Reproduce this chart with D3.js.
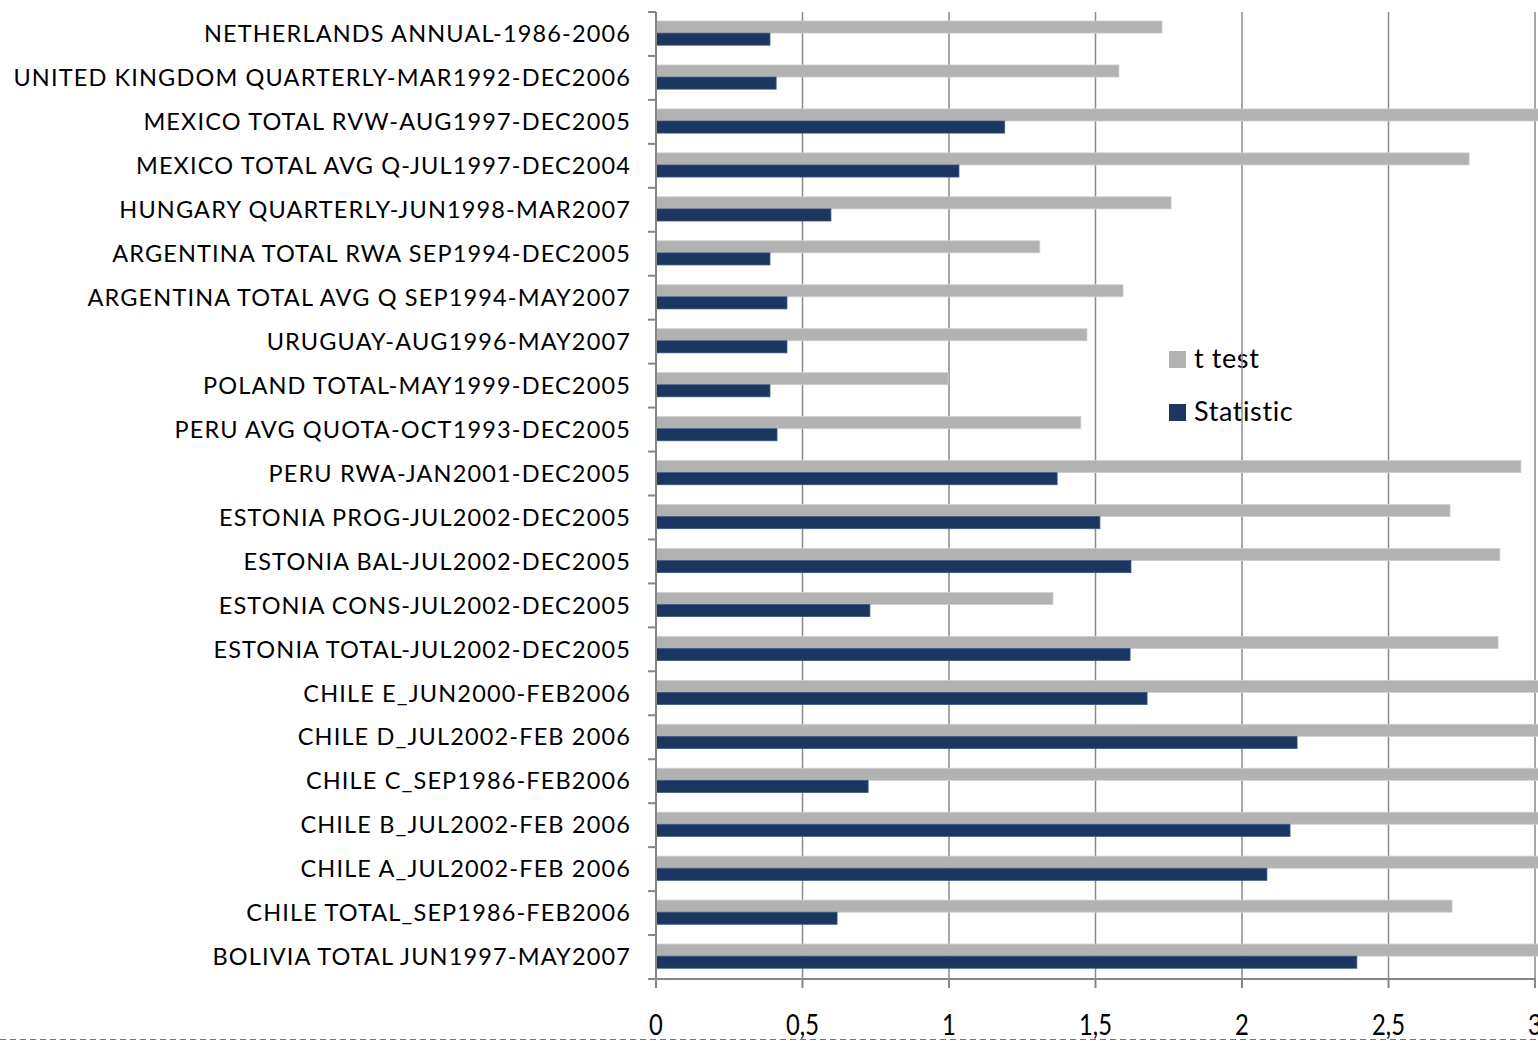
<!DOCTYPE html>
<html><head><meta charset="utf-8">
<script src="https://cdn.jsdelivr.net/npm/d3@7"></script>
<style>html,body{margin:0;padding:0;background:#fff;overflow:hidden}</style>
</head><body>
<svg id="chart" width="1538" height="1041"></svg>
<script>
const categories = [
  "NETHERLANDS ANNUAL-1986-2006",
  "UNITED KINGDOM QUARTERLY-MAR1992-DEC2006",
  "MEXICO TOTAL RVW-AUG1997-DEC2005",
  "MEXICO TOTAL AVG Q-JUL1997-DEC2004",
  "HUNGARY QUARTERLY-JUN1998-MAR2007",
  "ARGENTINA TOTAL RWA SEP1994-DEC2005",
  "ARGENTINA TOTAL AVG Q SEP1994-MAY2007",
  "URUGUAY-AUG1996-MAY2007",
  "POLAND TOTAL-MAY1999-DEC2005",
  "PERU AVG QUOTA-OCT1993-DEC2005",
  "PERU RWA-JAN2001-DEC2005",
  "ESTONIA PROG-JUL2002-DEC2005",
  "ESTONIA BAL-JUL2002-DEC2005",
  "ESTONIA CONS-JUL2002-DEC2005",
  "ESTONIA TOTAL-JUL2002-DEC2005",
  "CHILE E_JUN2000-FEB2006",
  "CHILE D_JUL2002-FEB 2006",
  "CHILE C_SEP1986-FEB2006",
  "CHILE B_JUL2002-FEB 2006",
  "CHILE A_JUL2002-FEB 2006",
  "CHILE TOTAL_SEP1986-FEB2006",
  "BOLIVIA TOTAL JUN1997-MAY2007"
];
const tTest = [1.727, 1.58, 3.2, 2.775, 1.758, 1.31, 1.594, 1.471, 0.997, 1.45, 2.952, 2.71, 2.88, 1.355, 2.874, 3.3, 3.8, 3.1, 3.7, 3.5, 2.717, 4.0];
const statistic = [0.389, 0.41, 1.19, 1.034, 0.597, 0.389, 0.447, 0.447, 0.389, 0.413, 1.369, 1.515, 1.621, 0.73, 1.618, 1.676, 2.188, 0.724, 2.164, 2.085, 0.618, 2.392];
const seriesNames = ["t test", "Statistic"];
const xTicks = [0, 0.5, 1, 1.5, 2, 2.5, 3];
const xTickLabels = ["0", "0,5", "1", "1,5", "2", "2,5", "3"];

const colors = {"t test": "#b2b2b2", "Statistic": "#1b3760"};
const strokes = {"t test": "#cfcfcf", "Statistic": "#3a5680"};
const FONT = "Lato, 'Open Sans', sans-serif";

const svg = d3.select("#chart");
const L = 656, R = 1535, T = 12, B = 979;

const x = d3.scaleLinear().domain([0, 3]).range([L, R]);
const y = d3.scaleBand().domain(categories).range([T, B]).padding(0);
const bw = y.bandwidth();
const ys = d3.scaleBand().domain(seriesNames).range([bw * 0.205, bw * 0.755]).padding(0);

const rows = categories.map((c, i) => ({cat: c, "t test": tTest[i], "Statistic": statistic[i]}));

// red dashed page border
svg.append("line").attr("x1", 0).attr("x2", 1538).attr("y1", 1039.5).attr("y2", 1039.5)
  .attr("stroke", "#e8433f").attr("stroke-width", 1).attr("stroke-dasharray", "6,4");

// legend
const leg = svg.append("g");
[{n: "t test", y: 351, ty: 368}, {n: "Statistic", y: 404, ty: 421}].forEach(d => {
  leg.append("rect").attr("x", 1169).attr("y", d.y).attr("width", 17).attr("height", 17).attr("fill", colors[d.n]);
  leg.append("text").attr("x", 1194).attr("y", d.ty).attr("font-family", FONT).attr("font-size", 27)
    .attr("letter-spacing", 0.6).attr("fill", "#000").text(d.n);
});

// gridlines
svg.append("g").selectAll("line").data(xTicks.slice(1)).join("line")
  .attr("x1", d => x(d)).attr("x2", d => x(d)).attr("y1", T).attr("y2", B)
  .attr("stroke", "#8a8a8a").attr("stroke-width", 1.5);

// bars
const clip = svg.append("defs").append("clipPath").attr("id", "clip");
clip.append("rect").attr("x", L).attr("y", 0).attr("width", 1538 - L).attr("height", 1041);

const bars = svg.append("g").attr("clip-path", "url(#clip)");
seriesNames.forEach(s => {
  bars.append("g").selectAll("rect").data(rows).join("rect")
    .attr("x", x(0)).attr("y", d => y(d.cat) + ys(s))
    .attr("width", d => x(d[s]) - x(0)).attr("height", ys.bandwidth())
    .attr("fill", colors[s]).attr("stroke", strokes[s]).attr("stroke-width", 0.8);
});

// y axis
const yAxis = svg.append("g");
yAxis.append("line").attr("x1", L).attr("x2", L).attr("y1", T).attr("y2", B)
  .attr("stroke", "#868686").attr("stroke-width", 2);
yAxis.selectAll("line.tk").data(d3.range(categories.length + 1)).join("line").attr("class", "tk")
  .attr("x1", L - 8).attr("x2", L).attr("y1", i => T + i * y.step()).attr("y2", i => T + i * y.step())
  .attr("stroke", "#868686").attr("stroke-width", 2);
yAxis.selectAll("text").data(categories).join("text")
  .attr("x", 631).attr("y", d => y(d) + bw / 2).attr("dy", "0.35em")
  .attr("text-anchor", "end").attr("font-family", FONT).attr("font-size", 23.5)
  .attr("letter-spacing", 1.15).attr("fill", "#000")
  .text(d => d);

// x axis
const xAxis = svg.append("g");
xAxis.append("line").attr("x1", L - 8).attr("x2", R + 1).attr("y1", B).attr("y2", B)
  .attr("stroke", "#868686").attr("stroke-width", 2);
xAxis.selectAll("line.tk").data(xTicks).join("line").attr("class", "tk")
  .attr("x1", d => x(d)).attr("x2", d => x(d)).attr("y1", B).attr("y2", B + 9)
  .attr("stroke", "#868686").attr("stroke-width", 2);
xAxis.selectAll("text").data(xTicks).join("text")
  .attr("transform", d => `translate(${x(d)},1035) scale(0.82,1)`)
  .attr("text-anchor", "middle").attr("font-family", FONT).attr("font-size", 29).attr("fill", "#000")
  .text((d, i) => xTickLabels[i]);
</script>
</body></html>
